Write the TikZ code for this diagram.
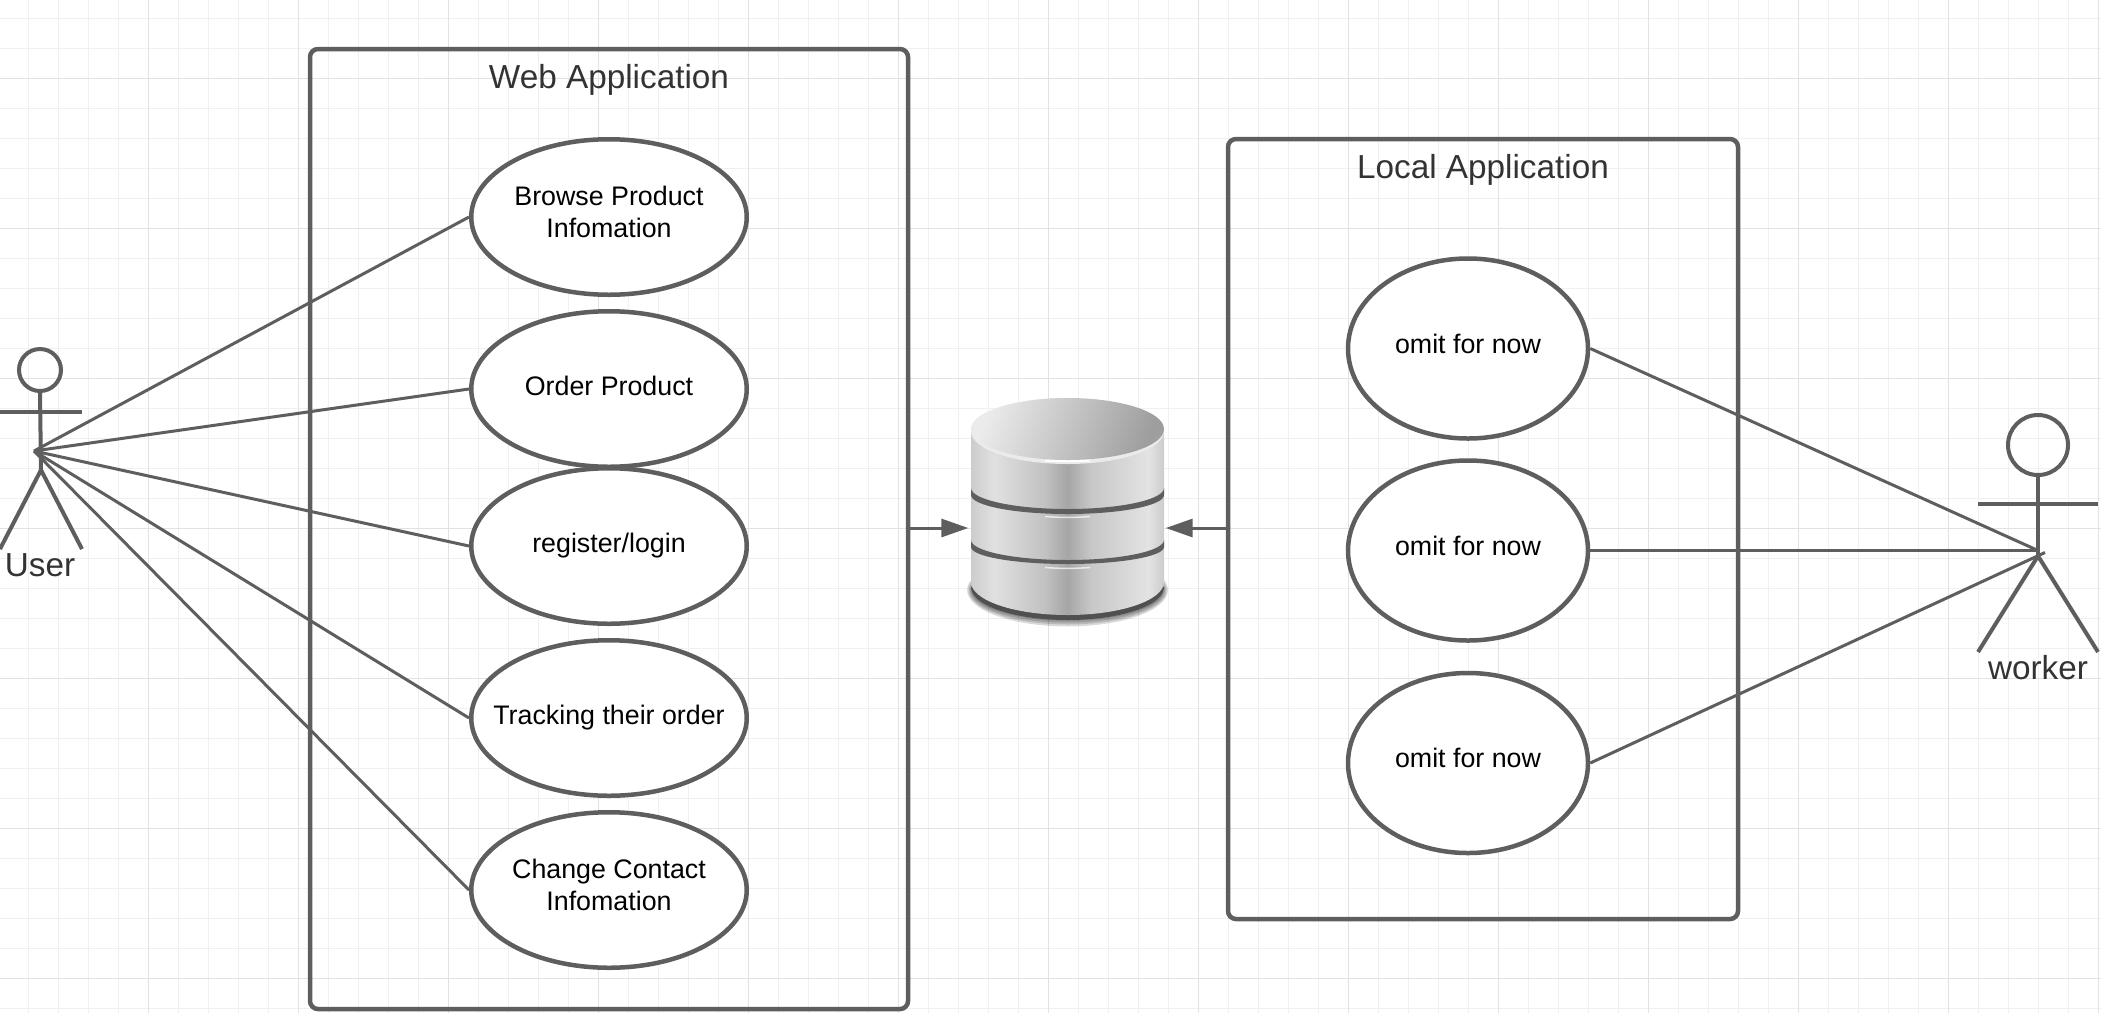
\documentclass[tikz,border=0pt]{standalone}
\usepackage{fontspec}
\usepackage{xcolor}
\usepackage{tikz}
\usetikzlibrary{arrows.meta,shapes.geometric}
\setmainfont{Liberation Sans}
\definecolor{Ink}{HTML}{5E5E5E}
\definecolor{GridMinor}{HTML}{F0F0F0}
\definecolor{GridMajor}{HTML}{E2E2E2}
\definecolor{Title}{HTML}{333333}
\pgfdeclarehorizontalshading{dbside}{100bp}{color(0bp)=(black!20); color(25bp)=(black!20); color(31bp)=(black!12); color(44bp)=(black!24); color(50bp)=(black!35); color(56bp)=(black!22); color(71bp)=(black!11); color(75bp)=(black!20); color(100bp)=(black!20)}
\newcommand{\titlefont}{\fontsize{33.3}{38}\selectfont}
\newcommand{\casefont}{\fontsize{26.8}{32}\selectfont}

\begin{document}
\begin{tikzpicture}[x=1pt,y=-1pt,
  appbox/.style={draw=Ink,line width=4.5pt,rounded corners=8pt,inner sep=0pt},
  webcase/.style={ellipse,draw=Ink,line width=4.5pt,fill=white,align=center,inner xsep=-40pt,inner ysep=0pt,text depth=6pt,minimum width=275.5pt,minimum height=155.5pt,font=\casefont},
  twolines/.style={text depth=11pt},
  localcase/.style={ellipse,draw=Ink,line width=4.5pt,fill=white,align=center,inner sep=0pt,text depth=10pt,minimum width=240pt,minimum height=180pt,font=\casefont},
  titlelabel/.style={text=Title,inner sep=0pt,font=\titlefont},
  link/.style={draw=Ink,line width=3pt},
  actorline/.style={draw=Ink,line width=4pt},
  store/.style={draw=Ink,line width=3pt,-{Triangle[length=27pt,width=18pt]}}]
\useasboundingbox (0,0) rectangle (2101,1013);
\foreach \k in {0,...,69} \draw[GridMinor,line width=1.2pt] ({28.5+30*\k},0) -- ({28.5+30*\k},1013);
\foreach \k in {0,...,33} \draw[GridMinor,line width=1.2pt] (0,{18.5+30*\k}) -- (2101,{18.5+30*\k});
\foreach \k in {0,...,13} \draw[GridMajor,line width=1.2pt] ({148.5+150*\k},0) -- ({148.5+150*\k},1013);
\foreach \k in {0,...,6} \draw[GridMajor,line width=1.2pt] (0,{78.5+150*\k}) -- (2101,{78.5+150*\k});

\node[appbox,minimum width=598pt,minimum height=960pt] (web) at (609,529) {};
\node[titlelabel] (webtitle) at (609,80) {Web Application};
\node[appbox,minimum width=510pt,minimum height=780pt] (local) at (1483,529) {};
\node[titlelabel] (localtitle) at (1483,170) {Local Application};

\node[webcase,twolines] (browse) at (609,217) {Browse Product\\Infomation};
\node[webcase] (order) at (609,389) {Order Product};
\node[webcase] (register) at (609,546) {register/login};
\node[webcase] (tracking) at (609,718) {Tracking their order};
\node[webcase,twolines] (contact) at (609,890) {Change Contact\\Infomation};
\node[localcase] (omitone) at (1468,348.5) {omit for now};
\node[localcase] (omittwo) at (1468,550.5) {omit for now};
\node[localcase] (omitthree) at (1468,763) {omit for now};

\node[circle,draw=Ink,line width=4pt,inner sep=0pt,minimum size=42pt] (userhead) at (40,370) {};
\coordinate (userhub) at (34,451);
\coordinate (userhip) at (41,470);
\draw[actorline] (userhead.south) -- (userhip);
\draw[actorline] (0,412) -- (82,412);
\draw[actorline] (userhip) -- (0,549);
\draw[actorline] (userhip) -- (82,549);
\node[titlelabel] (userlabel) at (40,565) {User};
\foreach \c in {browse,order,register,tracking,contact} \draw[link] (userhub) -- (\c.west);

\node[circle,draw=Ink,line width=4pt,inner sep=0pt,minimum size=60pt] (workerhead) at (2038,445) {};
\coordinate (workerhub) at (2038,550.5);
\coordinate (workerhip) at (2038,556);
\coordinate (workertick) at (2045,552.5);
\draw[actorline] (workerhead.south) -- (workerhip);
\draw[actorline] (1978,504) -- (2098,504);
\draw[actorline] (workerhip) -- (1978,652);
\draw[actorline] (workerhip) -- (2098,652);
\node[titlelabel] (workerlabel) at (2038,668) {worker};
\draw[link] (omitone.east) -- (workerhub);
\draw[link] (omittwo.east) -- (workerhub);
\draw[link] (omitthree.east) -- (workertick);

\node[inner sep=0pt,minimum width=197pt,minimum height=10pt] (db) at (1067,528) {};
\foreach \g in {0,2,...,12} \fill[black,opacity=0.15] (1067.5,590) ellipse [x radius={(92+\g*0.7)*1pt},y radius={(25+\g*0.95)*1pt}];
\fill[Ink!85!black] (971,587) arc[x radius=96.5pt,y radius=33pt,start angle=180,end angle=360] -- cycle;
\path[shading=dbside] (971,430) -- (971,582) arc[x radius=96.5pt,y radius=33pt,start angle=180,end angle=360] -- (1164,430) -- cycle;
\fill[Ink] (971,488) arc[x radius=96.5pt,y radius=21pt,start angle=180,end angle=360] -- (1164,495) arc[x radius=96.5pt,y radius=19pt,start angle=360,end angle=180] -- cycle;
\fill[Ink] (971,540) arc[x radius=96.5pt,y radius=20pt,start angle=180,end angle=360] -- (1164,547) arc[x radius=96.5pt,y radius=17pt,start angle=360,end angle=180] -- cycle;
\draw[white,opacity=0.7,line width=1.5pt] (1045,516.5) to[bend right=4] (1090,516.5);
\draw[white,opacity=0.7,line width=1.5pt] (1045,567.5) to[bend right=4] (1090,567.5);
\fill[black!8] (1067.5,431) ellipse [x radius=96.5pt,y radius=33pt];
\draw[white,line width=2pt] (1045,460.5) to[bend right=3] (1090,460.5);
\path[left color=black!8,right color=black!38,shading angle=70] (1067.5,429) ellipse [x radius=96.5pt,y radius=31pt];

\draw[store] (web.east |- db) -- (db.west);
\draw[store] (local.west |- db) -- (db.east);
\end{tikzpicture}
\end{document}
